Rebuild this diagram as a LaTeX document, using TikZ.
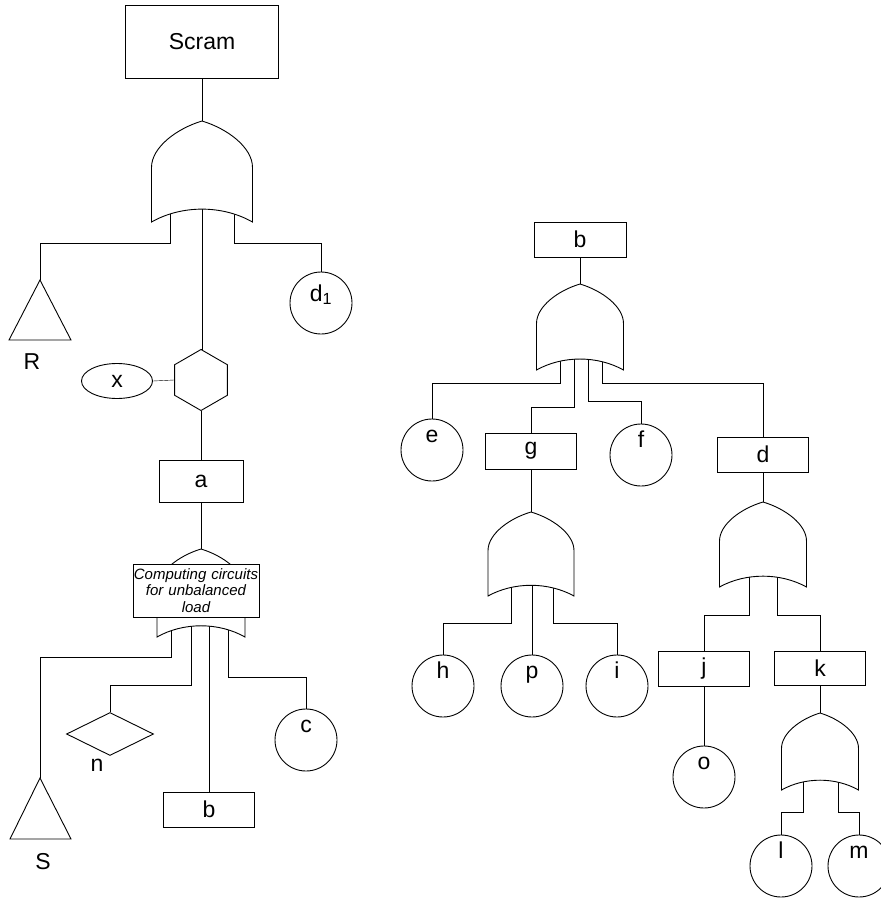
\documentclass[tikz,border=0pt]{standalone}
\usepackage{fontspec}
\setmainfont{Liberation Sans}
\usetikzlibrary{shapes.geometric}
\pgfdeclarelayer{back}
\pgfsetlayers{back,main}

\tikzset{
  evbox/.style={draw,rectangle,minimum width=91pt,minimum height=35pt,inner sep=0pt},
  basic/.style={draw,circle,minimum size=62pt,inner sep=0pt,text height=4pt,text depth=19pt},
  gate/.style={draw,fill=white}
}

% OR gate: name, centre x, apex y, width, height
\newcommand{\orgate}[5]{%
  \coordinate (#1) at (#2,#3);
  \path[gate] (#2,#3)
    .. controls ({#2-0.25*#4},{#3+0.075*#5}) and ({#2-0.5*#4},{#3+0.26*#5}) .. ({#2-0.5*#4},{#3+0.46*#5})
    -- ({#2-0.5*#4},{#3+#5})
    .. controls ({#2-0.2*#4},{#3+0.83*#5}) and ({#2+0.2*#4},{#3+0.83*#5}) .. ({#2+0.5*#4},{#3+#5})
    -- ({#2+0.5*#4},{#3+0.46*#5})
    .. controls ({#2+0.5*#4},{#3+0.26*#5}) and ({#2+0.25*#4},{#3+0.075*#5}) .. (#2,#3) -- cycle;
}

\begin{document}
\begin{tikzpicture}[x=1pt,y=-1pt,line width=0.9pt,font=\fontsize{23pt}{27pt}\selectfont]
\useasboundingbox (0,0) rectangle (881,900);

% left tree
\node[evbox,minimum width=153pt,minimum height=73pt] (scram) at (202,41.5) {Scram};
\coordinate (R) at (40,280);
\draw (R) -- (9,340) -- (71,340) -- cycle;
\node (Rlab) at (32,362) {R};
\node[basic,text height=6pt,text depth=10pt] (d1) at (321,303) {d\textsubscript{1}};
\node[draw,regular polygon,regular polygon sides=6,shape border rotate=30,minimum size=61pt,inner sep=0pt] (hex) at (201,380) {};
\node[draw,ellipse,minimum width=71pt,minimum height=35pt,inner sep=0pt] (x) at (117,381) {x};
\node[evbox,minimum width=84pt,minimum height=42pt] (a) at (201,481) {a};
\coordinate (S) at (40,778);
\draw (S) -- (10,839) -- (71,839) -- cycle;
\node (Slab) at (43,862) {S};
\node[draw,diamond,minimum width=87pt,minimum height=43pt,inner sep=0pt] (n) at (110,734) {};
\node (nlab) at (97,765) {n};
\node[evbox] (bl) at (209,809.5) {b};
\node[basic] (c) at (306,740) {c};

% right tree
\node[evbox,minimum width=92pt] (br) at (580,239.5) {b};
\node[basic] (e) at (432,450) {e};
\node[evbox,minimum height=36pt] (g) at (531,451) {g};
\node[basic] (f) at (641,455) {f};
\node[evbox] (d) at (763,454.5) {d};
\node[basic] (h) at (443,686) {h};
\node[basic] (p) at (532,686) {p};
\node[basic] (i) at (617,686) {i};
\node[evbox] (j) at (704,668.5) {j};
\node[evbox,minimum height=34pt] (k) at (820,668) {k};
\node[basic] (o) at (704,777) {o};
\node[basic] (l) at (781,866) {l};
\node[basic] (m) at (859,866) {m};

% gates
\orgate{or1}{202}{121}{101}{101}
\orgate{or2}{201}{549}{88}{88}
\orgate{or3}{580}{284}{87}{86}
\orgate{or4}{531}{512}{86}{84}
\orgate{or5}{763}{502}{87}{85}
\orgate{or6}{820}{713}{77}{77}
\node[draw,fill=white,text width=126pt,minimum height=53pt,inner sep=0pt,align=center,
      font=\itshape\fontsize{15pt}{16.5pt}\selectfont] (ccbox) at (196,590.5)
      {Computing circuits\\for unbalanced\\load};

% gate inputs
\coordinate (or1a) at (170,209); \coordinate (or1b) at (202,209); \coordinate (or1c) at (234,209);
\coordinate (or2a) at (171,626); \coordinate (or2b) at (191,626);
\coordinate (or2c) at (209,626); \coordinate (or2d) at (228,626);
\coordinate (or3a) at (560,359); \coordinate (or3b) at (574,359);
\coordinate (or3c) at (588,359); \coordinate (or3d) at (602,359);
\coordinate (or4a) at (511,586); \coordinate (or4b) at (532,586); \coordinate (or4c) at (553,586);
\coordinate (or5a) at (749,576); \coordinate (or5b) at (777,576);
\coordinate (or6a) at (803,780); \coordinate (or6b) at (838,780);

\begin{pgfonlayer}{back}
\draw (scram.south) -- (or1);
\draw (or1a) -- ++(0,34) -| (R);
\draw (or1b) -- (or1b |- hex.90) -- (hex.90);
\draw (or1c) -- ++(0,34) -| (d1.north);
\draw (x.east) -- (hex.180);
\draw (hex.270) -- (a.north);
\draw (a.south) -- (or2);
\draw (or2a) -- ++(0,31) -| (S);
\draw (or2b) -- ++(0,59) -| (n.north);
\draw (or2c) -- (bl.north);
\draw (or2d) -- ++(0,51) -| (c.north);

\draw (br.south) -- (or3);
\draw (or3a) -- ++(0,24) -| (e.north);
\draw (or3b) -- ++(0,48) -| (g.north);
\draw (or3c) -- ++(0,42) -| (f.north);
\draw (or3d) -- ++(0,24) -| (d.north);
\draw (g.south) -- (or4);
\draw (or4a) -- ++(0,37) -| (h.north);
\draw (or4b) -- (p.north);
\draw (or4c) -- ++(0,37) -| (i.north);
\draw (d.south) -- (or5);
\draw (or5a) -- ++(0,39) -| (j.north);
\draw (or5b) -- ++(0,39) -| (k.north);
\draw (j.south) -- (o.north);
\draw (k.south) -- (or6);
\draw (or6a) -- ++(0,32) -| (l.north);
\draw (or6b) -- ++(0,32) -| (m.north);
\end{pgfonlayer}
\end{tikzpicture}
\end{document}
